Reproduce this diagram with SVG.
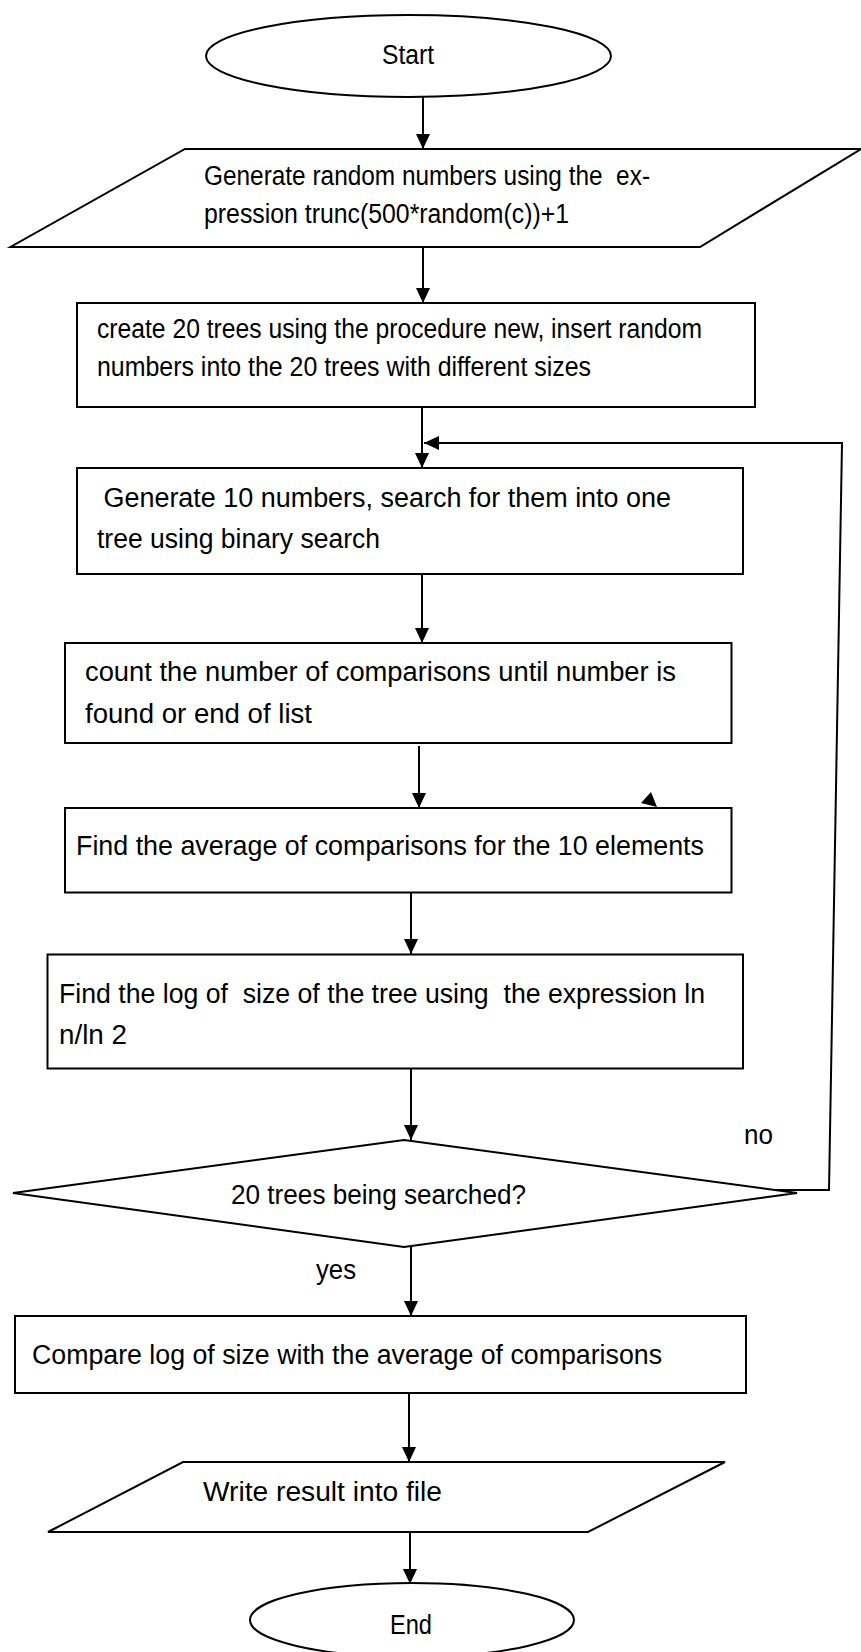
<svg xmlns="http://www.w3.org/2000/svg" width="861" height="1652" viewBox="0 0 861 1652">
<style>
.s{fill:#fff;stroke:#000;stroke-width:2}
.c{fill:none;stroke:#000;stroke-width:2}
text{font-family:"Liberation Sans",Arial,sans-serif;font-size:27px;fill:#000;white-space:pre}
</style>
<defs>
<marker id="ah" markerUnits="userSpaceOnUse" markerWidth="16" markerHeight="16" refX="15" refY="7" orient="auto">
<path d="M0,0 L15,7 L0,14 z" fill="#000"/>
</marker>
</defs>
<rect width="861" height="1652" fill="#fff"/>
<g id="connectors">
<line class="c" x1="423" y1="97" x2="423" y2="149" marker-end="url(#ah)"/>
<line class="c" x1="423" y1="247" x2="423" y2="303" marker-end="url(#ah)"/>
<line class="c" x1="422" y1="407" x2="422" y2="468" marker-end="url(#ah)"/>
<line class="c" x1="422" y1="574" x2="422" y2="643" marker-end="url(#ah)"/>
<line class="c" x1="419" y1="746" x2="419" y2="808" marker-end="url(#ah)"/>
<line class="c" x1="411" y1="892" x2="411" y2="954" marker-end="url(#ah)"/>
<line class="c" x1="411" y1="1069" x2="411" y2="1140" marker-end="url(#ah)"/>
<line class="c" x1="411" y1="1247" x2="411" y2="1316" marker-end="url(#ah)"/>
<line class="c" x1="409" y1="1393" x2="409" y2="1462" marker-end="url(#ah)"/>
<line class="c" x1="410" y1="1532" x2="410" y2="1584" marker-end="url(#ah)"/>
<polyline class="c" points="723,1190 829,1190 842,443 424,443" marker-end="url(#ah)"/>
<polygon points="651,792 641,803 657,807" fill="#000"/>
</g>
<g id="start">
<ellipse class="s" cx="408.5" cy="56" rx="202.5" ry="41"/>
<text x="382" y="64" font-size="25" textLength="52" lengthAdjust="spacingAndGlyphs">Start</text>
</g>
<g id="generate">
<polygon class="s" points="185,149 861,149 700,247 10.5,247"/>
<text x="204" y="185" textLength="446" lengthAdjust="spacingAndGlyphs">Generate random numbers using the  ex-</text>
<text x="204" y="223" textLength="365" lengthAdjust="spacingAndGlyphs">pression trunc(500*random(c))+1</text>
</g>
<g id="create">
<rect class="s" x="77" y="303" width="678" height="104"/>
<text x="97" y="338" textLength="605" lengthAdjust="spacingAndGlyphs">create 20 trees using the procedure new, insert random</text>
<text x="97" y="376" textLength="494" lengthAdjust="spacingAndGlyphs">numbers into the 20 trees with different sizes</text>
</g>
<g id="search">
<rect class="s" x="77" y="468" width="666" height="106"/>
<text x="96" y="507" textLength="575" lengthAdjust="spacingAndGlyphs"> Generate 10 numbers, search for them into one</text>
<text x="97" y="548" textLength="283" lengthAdjust="spacingAndGlyphs">tree using binary search</text>
</g>
<g id="count">
<rect class="s" x="65" y="643" width="666.5" height="100"/>
<text x="85" y="681" textLength="591" lengthAdjust="spacingAndGlyphs">count the number of comparisons until number is</text>
<text x="85" y="723" textLength="227" lengthAdjust="spacingAndGlyphs">found or end of list</text>
</g>
<g id="average">
<rect class="s" x="65" y="808" width="666.5" height="84.5"/>
<text x="76" y="855" textLength="628" lengthAdjust="spacingAndGlyphs">Find the average of comparisons for the 10 elements</text>
</g>
<g id="log">
<rect class="s" x="47.5" y="954.5" width="695.5" height="114"/>
<text x="59" y="1003" textLength="646" lengthAdjust="spacingAndGlyphs">Find the log of  size of the tree using  the expression ln</text>
<text x="59" y="1044" textLength="68" lengthAdjust="spacingAndGlyphs">n/ln 2</text>
</g>
<g id="decision">
<polygon class="s" points="404,1140 797,1193 404,1247 13,1193"/>
<text x="231" y="1204" textLength="295" lengthAdjust="spacingAndGlyphs">20 trees being searched?</text>
</g>
<g id="labels">
<text x="744" y="1144" textLength="29" lengthAdjust="spacingAndGlyphs">no</text>
<text x="316" y="1279" textLength="40" lengthAdjust="spacingAndGlyphs">yes</text>
</g>
<g id="compare">
<rect class="s" x="15" y="1316" width="731" height="77"/>
<text x="32" y="1364" textLength="630" lengthAdjust="spacingAndGlyphs">Compare log of size with the average of comparisons</text>
</g>
<g id="write">
<polygon class="s" points="183,1462 725,1462 588,1532 48,1532"/>
<text x="203" y="1501" textLength="239" lengthAdjust="spacingAndGlyphs">Write result into file</text>
</g>
<g id="end">
<ellipse class="s" cx="412" cy="1620" rx="162" ry="37"/>
<text x="390" y="1634" font-size="27" textLength="42" lengthAdjust="spacingAndGlyphs">End</text>
</g>
</svg>
